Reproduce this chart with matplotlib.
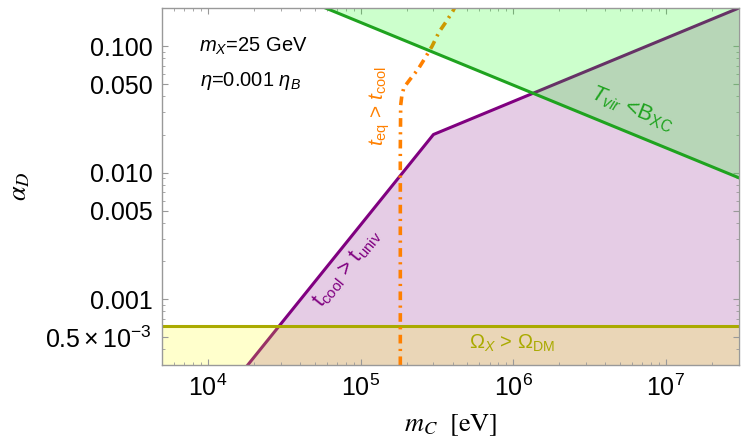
import matplotlib
matplotlib.use('Agg')
import matplotlib.pyplot as plt
from matplotlib.ticker import FixedLocator, LogLocator, NullFormatter

plt.rcParams['font.family'] = ['Liberation Sans', 'DejaVu Sans']
plt.rcParams['mathtext.fontset'] = 'custom'
plt.rcParams['mathtext.rm'] = 'Liberation Sans'
plt.rcParams['mathtext.it'] = 'Liberation Sans:italic'
plt.rcParams['mathtext.bf'] = 'Liberation Sans:bold'

# axis ranges
m_range = [5e3, 3e7]
alpha_range = [3e-4, 0.2]

# t_cool > t_univ boundary (purple)
m_cool = [1.82e4, 3.0e5, 3.0e7]
alpha_cool = [3.0e-4, 0.020, 0.20]

# T_vir < B_XC boundary (green)
m_vir = [5.9e4, 3.0e7]
alpha_vir = [0.20, 0.0091]

# Omega_X > Omega_DM boundary (olive)
alpha_omega = 6.1e-4

# t_eq > t_cool boundary (orange)
m_eq = [1.82e5, 1.82e5, 1.83e5, 1.86e5, 1.92e5, 2.11e5, 2.38e5, 2.64e5,
        2.94e5, 3.26e5, 3.62e5, 4.03e5, 4.2e5]
alpha_eq = [3.0e-4, 0.0152, 0.034, 0.040, 0.047, 0.0547, 0.0657, 0.0803,
            0.100, 0.129, 0.155, 0.190, 0.21]

x_ticks = [1e4, 1e5, 1e6, 1e7]
x_labels = [r'$10^{4}$', r'$10^{5}$', r'$10^{6}$', r'$10^{7}$']
y_ticks = [5e-4, 1e-3, 5e-3, 1e-2, 5e-2, 1e-1]
y_labels = [r'$0.5\times10^{-3}$', '0.001', '0.005', '0.010', '0.050', '0.100']

purple = (0.5, 0.0, 0.5)
green = '#1fa31f'
olive = (0.667, 0.667, 0.0)
orange = (1.0, 0.5, 0.0)

fig, ax = plt.subplots(figsize=(7.5, 4.48), dpi=100)
fig.subplots_adjust(left=0.216, right=0.985, bottom=0.185, top=0.982)

# purple region
ax.fill_between(m_cool, alpha_cool, 1e-6, color=purple, alpha=0.2, lw=0, zorder=1)
ax.plot(m_cool, alpha_cool, color=purple, lw=2.2, zorder=1.2)

# olive region
ax.axhspan(1e-6, alpha_omega, color=(1, 1, 0), alpha=0.2, lw=0, zorder=1.5)
ax.axhline(alpha_omega, color=olive, lw=2.2, zorder=1.6)

# orange curve
ax.plot(m_eq, alpha_eq, color=orange, lw=2.6, zorder=1.8,
        linestyle=(0, (2.4, 1.5, 0.6, 1.5)), dash_capstyle='butt')

# green region
ax.fill_between(m_vir, alpha_vir, 10, color=(0, 1, 0), alpha=0.2, lw=0, zorder=2)
ax.plot(m_vir, alpha_vir, color=green, lw=2.2, zorder=2.2)

ax.set_xscale('log')
ax.set_yscale('log')
ax.set_xlim(m_range)
ax.set_ylim(alpha_range)

ax.xaxis.set_major_locator(FixedLocator(x_ticks))
ax.set_xticklabels(x_labels)
ax.xaxis.set_minor_locator(LogLocator(base=10, subs=range(2, 10), numticks=20))
ax.xaxis.set_minor_formatter(NullFormatter())
ax.yaxis.set_major_locator(FixedLocator(y_ticks))
ax.set_yticklabels(y_labels)
ax.yaxis.set_minor_locator(LogLocator(base=10, subs=range(1, 10), numticks=20))
ax.yaxis.set_minor_formatter(NullFormatter())

ax.tick_params(which='both', direction='in', top=True, right=True, color='#999999',
               labelsize=18, labelcolor='black')
ax.tick_params(which='major', length=4.5, width=0.8, pad=7)
ax.tick_params(which='minor', length=2.5, width=0.6)
for sp in ax.spines.values():
    sp.set_color('#999999')
    sp.set_linewidth(1.0)

ax.set_xlabel(r'$m_C\ \ \mathrm{[eV]}$', fontsize=19, math_fontfamily='stix', labelpad=8)
ax.set_ylabel(r'$\alpha_D$', fontsize=19, math_fontfamily='stix', labelpad=10)

ax.text(1.97e4, 0.1, r'$m_X$=25 GeV', fontsize=14.5, ha='center', va='center', zorder=5)
ax.text(1.9e4, 0.0528, r'$\eta$=0.001 $\eta_B$', fontsize=14.5, ha='center', va='center', zorder=5)

ax.text(6.0e6, 0.0316, r'$T_{vir}$ <B$_{\mathrm{XC}}$', color=green, fontsize=16,
        rotation=-22, ha='center', va='center', rotation_mode='anchor', zorder=5)
ax.text(8.2e4, 1.75e-3, r'$\mathrm{t_{cool}}$ > $\mathrm{t_{univ}}$', color=purple, fontsize=15.5,
        rotation=51, ha='center', va='center', rotation_mode='anchor', zorder=5)
ax.text(1.33e5, 0.0334, r'$t_{\mathrm{eq}}$ > $t_{\mathrm{cool}}$', color=orange, fontsize=15,
        rotation=90, ha='center', va='center', rotation_mode='anchor', zorder=5)
ax.text(9.8e5, 4.48e-4, r'$\Omega_X$ > $\Omega_{\mathrm{DM}}$', color=olive, fontsize=14.5,
        ha='center', va='center', zorder=5)

fig.savefig('out.png', dpi=100)
